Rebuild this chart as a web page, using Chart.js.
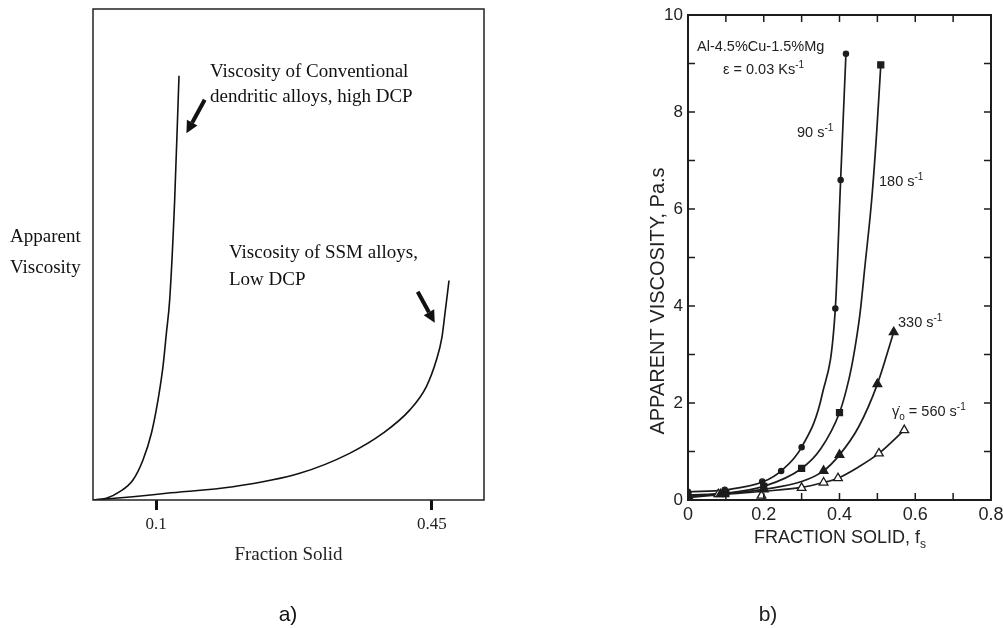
<!DOCTYPE html>
<html>
<head>
<meta charset="utf-8">
<script src="https://cdn.jsdelivr.net/npm/chart.js@4"></script>
<style>
  body { margin: 0; background: #fff; }
  #wrap { position: relative; width: 1003px; height: 628px; }
  canvas { position: absolute; top: 0; }
  #chartA { left: 0; }
  #chartB { left: 600px; }
</style>
</head>
<body>
<div id="wrap">
  <canvas id="chartA" width="500" height="628"></canvas>
  <canvas id="chartB" width="403" height="628"></canvas>
</div>
<script>
// ---- panel a: schematic, fraction solid vs apparent viscosity (arbitrary units)
const convX = [0.02, 0.037, 0.0539, 0.0707, 0.0834, 0.0941, 0.1025, 0.1088, 0.1131, 0.1173, 0.1236, 0.1291];
const convY = [0, 0.35, 1.69, 4.08, 8.15, 13.6, 20.4, 27.2, 34.0, 40.8, 61.1, 86.4];
const ssmX = [0.02, 0.0285, 0.0707, 0.1131, 0.1976, 0.2822, 0.3455, 0.3879, 0.4217, 0.4429, 0.4556, 0.4625, 0.4665, 0.4716];
const ssmY = [0, 0.1, 0.67, 1.37, 2.7, 5.44, 9.5, 13.6, 18.3, 23.1, 28.5, 33, 38, 44.7];
const aTicks = [0.1, 0.45];

// ---- panel b: Al-4.5%Cu-1.5%Mg, measured points
const fs90 = [0, 0.097, 0.196, 0.246, 0.3, 0.389, 0.403, 0.417];
const visc90 = [0.17, 0.21, 0.38, 0.6, 1.09, 3.95, 6.6, 9.2];
const fs180 = [0, 0.1, 0.2, 0.3, 0.4, 0.509];
const visc180 = [0.1, 0.13, 0.28, 0.65, 1.8, 8.97];
const fs330 = [0, 0.086, 0.2, 0.358, 0.4, 0.5, 0.543];
const visc330 = [0.08, 0.12, 0.22, 0.6, 0.93, 2.39, 3.46];
const fs560 = [0, 0.08, 0.194, 0.3, 0.358, 0.396, 0.504, 0.571];
const visc560 = [0.05, 0.12, 0.09, 0.25, 0.36, 0.45, 0.96, 1.44];

// fitted curves
const fit90X = [0, 0.1, 0.2, 0.246, 0.3, 0.355, 0.389, 0.403, 0.417];
const fit90Y = [0.17, 0.21, 0.38, 0.6, 1.09, 2.2, 3.95, 6.6, 9.2];
const fit180X = [0, 0.1, 0.2, 0.3, 0.35, 0.4, 0.418, 0.432, 0.447, 0.455, 0.467, 0.485, 0.498, 0.509];
const fit180Y = [0.1, 0.14, 0.28, 0.65, 1.05, 1.8, 2.27, 2.75, 3.44, 3.9, 4.81, 6.19, 7.56, 8.97];
const fit330X = [0, 0.1, 0.2, 0.3, 0.358, 0.4, 0.45, 0.5, 0.543];
const fit330Y = [0.08, 0.13, 0.22, 0.38, 0.6, 0.93, 1.5, 2.39, 3.46];
const fit560X = [0, 0.1, 0.2, 0.3, 0.358, 0.396, 0.45, 0.504, 0.571];
const fit560Y = [0.05, 0.12, 0.18, 0.26, 0.36, 0.45, 0.68, 0.96, 1.44];

const xTicksB = [0, 0.1, 0.2, 0.3, 0.4, 0.5, 0.6, 0.7, 0.8];

const zip = (xs, ys) => xs.map((x, i) => ({ x: x, y: ys[i] }));

// draws text made of normal / superscript / subscript pieces, y is the baseline
function drawParts(ctx, parts, x, y, size, family, align) {
  const small = Math.round(size * 0.68);
  const fontFor = k => (k ? small : size) + 'px ' + family;
  let w = 0;
  parts.forEach(p => { ctx.font = fontFor(p[1]); w += ctx.measureText(p[0]).width; });
  let cx = align === 'center' ? x - w / 2 : x;
  ctx.textAlign = 'left';
  ctx.textBaseline = 'alphabetic';
  parts.forEach(p => {
    ctx.font = fontFor(p[1]);
    const dy = p[1] === 'sup' ? -size * 0.4 : p[1] === 'sub' ? size * 0.25 : 0;
    ctx.fillText(p[0], cx, y + dy);
    cx += ctx.measureText(p[0]).width;
  });
}

const notes = {
  id: 'notes',
  afterDraw(chart, args, opts) {
    const ctx = chart.ctx;
    ctx.save();
    ctx.fillStyle = opts.color;
    opts.items.forEach(n => {
      ctx.save();
      ctx.translate(n.x, n.y);
      if (n.rotate) ctx.rotate(n.rotate);
      drawParts(ctx, n.parts, 0, 0, n.size, n.family, n.align);
      ctx.restore();
    });
    ctx.restore();
  }
};

const frame = {
  id: 'frame',
  afterDraw(chart, args, opts) {
    const { ctx, chartArea: a } = chart;
    ctx.save();
    ctx.strokeStyle = opts.color;
    ctx.lineWidth = opts.width;
    ctx.strokeRect(a.left, a.top, a.right - a.left, a.bottom - a.top);
    ctx.restore();
  }
};

// thick arrows pointing at the curves (panel a), ends given in data units
const arrows = {
  id: 'arrows',
  afterDatasetsDraw(chart, args, opts) {
    const { ctx, scales: { x, y } } = chart;
    opts.list.forEach(a => {
      const x1 = x.getPixelForValue(a.from[0]), y1 = y.getPixelForValue(a.from[1]);
      const x2 = x.getPixelForValue(a.to[0]), y2 = y.getPixelForValue(a.to[1]);
      const ang = Math.atan2(y2 - y1, x2 - x1);
      const head = 12, half = 6;
      const bx = x2 - head * Math.cos(ang), by = y2 - head * Math.sin(ang);
      ctx.save();
      ctx.strokeStyle = ctx.fillStyle = '#111';
      ctx.lineWidth = 4;
      ctx.beginPath(); ctx.moveTo(x1, y1); ctx.lineTo(bx, by); ctx.stroke();
      ctx.beginPath();
      ctx.moveTo(x2, y2);
      ctx.lineTo(bx + half * Math.sin(ang), by - half * Math.cos(ang));
      ctx.lineTo(bx - half * Math.sin(ang), by + half * Math.cos(ang));
      ctx.closePath(); ctx.fill();
      ctx.restore();
    });
  }
};

// tick marks pointing into the plot on all four sides (panel b)
const innerTicks = {
  id: 'innerTicks',
  afterDraw(chart, args, opts) {
    const { ctx, chartArea: a, scales: { x, y } } = chart;
    const len = opts.length;
    ctx.save();
    ctx.strokeStyle = opts.color;
    ctx.lineWidth = opts.width;
    ctx.beginPath();
    x.ticks.forEach(t => {
      const px = x.getPixelForValue(t.value);
      if (px <= a.left + 1 || px >= a.right - 1) return;
      ctx.moveTo(px, a.bottom); ctx.lineTo(px, a.bottom - len);
      ctx.moveTo(px, a.top); ctx.lineTo(px, a.top + len);
    });
    y.ticks.forEach(t => {
      const py = y.getPixelForValue(t.value);
      if (py <= a.top + 1 || py >= a.bottom - 1) return;
      ctx.moveTo(a.left, py); ctx.lineTo(a.left + len, py);
      ctx.moveTo(a.right, py); ctx.lineTo(a.right - len, py);
    });
    ctx.stroke();
    ctx.restore();
  }
};

const SERIF = '"Liberation Serif", "Times New Roman", serif';
const SANS = '"Liberation Sans", Arial, sans-serif';
const noPad = s => { s.paddingLeft = 0; s.paddingRight = 0; s.paddingTop = 0; s.paddingBottom = 0; };

// ---------------- panel a
new Chart(document.getElementById('chartA'), {
  type: 'line',
  data: {
    datasets: [
      { data: zip(convX, convY) },
      { data: zip(ssmX, ssmY) }
    ]
  },
  options: {
    responsive: false,
    animation: false,
    layout: { padding: { left: 93, top: 9, right: 16, bottom: 0 } },
    elements: {
      point: { radius: 0 },
      line: { borderColor: '#111', borderWidth: 1.6, cubicInterpolationMode: 'monotone' }
    },
    plugins: {
      legend: { display: false },
      tooltip: { enabled: false },
      frame: { color: '#222', width: 1.5 },
      arrows: {
        list: [
          { from: [0.1617, 81.5], to: [0.1385, 74.7] },
          { from: [0.4319, 42.4], to: [0.4535, 36.1] }
        ]
      },
      notes: {
        color: '#111',
        items: [
          { parts: [['Viscosity of Conventional']], x: 210, y: 77, size: 19, family: SERIF },
          { parts: [['dendritic alloys, high DCP']], x: 210, y: 102, size: 19, family: SERIF },
          { parts: [['Viscosity of SSM alloys,']], x: 229, y: 258, size: 19, family: SERIF },
          { parts: [['Low DCP']], x: 229, y: 285, size: 19, family: SERIF },
          { parts: [['Apparent']], x: 10, y: 242, size: 19, family: SERIF },
          { parts: [['Viscosity']], x: 10, y: 273, size: 19, family: SERIF },
          { parts: [['a)']], x: 288, y: 621, size: 21, family: SANS, align: 'center' }
        ]
      }
    },
    scales: {
      x: {
        type: 'linear',
        min: 0.02,
        max: 0.516,
        afterBuildTicks: s => { s.ticks = aTicks.map(v => ({ value: v })); },
        afterFit: s => { s.height = 128; noPad(s); },
        border: { display: false },
        grid: { drawOnChartArea: false, tickLength: 10, tickWidth: 3, tickColor: '#111' },
        ticks: {
          padding: 4,
          color: '#222',
          font: { family: SERIF, size: 17 },
          callback: v => String(v)
        },
        title: {
          display: true,
          text: 'Fraction Solid',
          color: '#222',
          font: { family: SERIF, size: 19 },
          padding: { top: 0, bottom: 62 }
        }
      },
      y: { display: false, min: 0, max: 100 }
    }
  },
  plugins: [frame, arrows, notes]
});

// ---------------- panel b
const ink = '#1c1c1c';
const markerSet = (xs, ys, style, radius, fill) => ({
  data: zip(xs, ys),
  showLine: false,
  order: 0,
  pointStyle: style,
  pointRadius: radius,
  pointBackgroundColor: fill,
  pointBorderColor: ink,
  pointBorderWidth: 1.3
});
const curveSet = (xs, ys) => ({
  data: zip(xs, ys),
  order: 1,
  pointRadius: 0,
  borderColor: ink,
  borderWidth: 1.7,
  cubicInterpolationMode: 'monotone'
});

new Chart(document.getElementById('chartB'), {
  type: 'line',
  data: {
    datasets: [
      markerSet(fs90, visc90, 'circle', 2.6, ink),
      markerSet(fs180, visc180, 'rect', 4.2, ink),
      markerSet(fs330, visc330, 'triangle', 5, ink),
      markerSet(fs560, visc560, 'triangle', 5, '#fff'),
      curveSet(fit90X, fit90Y),
      curveSet(fit180X, fit180Y),
      curveSet(fit330X, fit330Y),
      curveSet(fit560X, fit560Y)
    ]
  },
  options: {
    responsive: false,
    animation: false,
    layout: { padding: { left: 0, top: 15, right: 12, bottom: 0 } },
    plugins: {
      legend: { display: false },
      tooltip: { enabled: false },
      frame: { color: ink, width: 2 },
      innerTicks: { color: ink, width: 1.5, length: 7 },
      notes: {
        color: '#222',
        items: [
          { parts: [['Al-4.5%Cu-1.5%Mg']], x: 97, y: 51, size: 14.5, family: SANS },
          { parts: [['\u03b5 = 0.03 Ks'], ['-1', 'sup']], x: 123, y: 74, size: 14.5, family: SANS },
          { parts: [['90 s'], ['-1', 'sup']], x: 197, y: 137, size: 14.5, family: SANS },
          { parts: [['180 s'], ['-1', 'sup']], x: 279, y: 186, size: 14.5, family: SANS },
          { parts: [['330 s'], ['-1', 'sup']], x: 298, y: 327, size: 14.5, family: SANS },
          { parts: [['\u03b3\u0307'], ['o', 'sub'], [' = 560 s'], ['-1', 'sup']], x: 292, y: 416, size: 14.5, family: SANS },
          { parts: [['APPARENT VISCOSITY, Pa.s']], x: 64, y: 301, size: 20, family: SANS, align: 'center', rotate: -Math.PI / 2 },
          { parts: [['FRACTION SOLID, f'], ['s', 'sub']], x: 240, y: 543, size: 18, family: SANS, align: 'center' },
          { parts: [['b)']], x: 168, y: 621, size: 21, family: SANS, align: 'center' }
        ]
      }
    },
    scales: {
      x: {
        type: 'linear',
        min: 0,
        max: 0.8,
        afterBuildTicks: s => { s.ticks = xTicksB.map(v => ({ value: v })); },
        afterFit: s => { s.height = 128; noPad(s); },
        border: { display: false },
        grid: { display: false, drawTicks: false },
        ticks: {
          padding: 4,
          autoSkip: false,
          maxRotation: 0,
          color: '#222',
          font: { family: SANS, size: 18 },
          callback: v => (Math.round(v * 10) % 2 === 0 ? String(v) : '')
        }
      },
      y: {
        min: 0,
        max: 10,
        afterFit: s => { s.width = 88; noPad(s); },
        border: { display: false },
        grid: { display: false, drawTicks: false },
        ticks: {
          stepSize: 1,
          padding: 5,
          color: '#222',
          font: { family: SANS, size: 17 },
          callback: v => (v % 2 === 0 ? String(v) : '')
        }
      }
    }
  },
  plugins: [frame, innerTicks, notes]
});
</script>
</body>
</html>
